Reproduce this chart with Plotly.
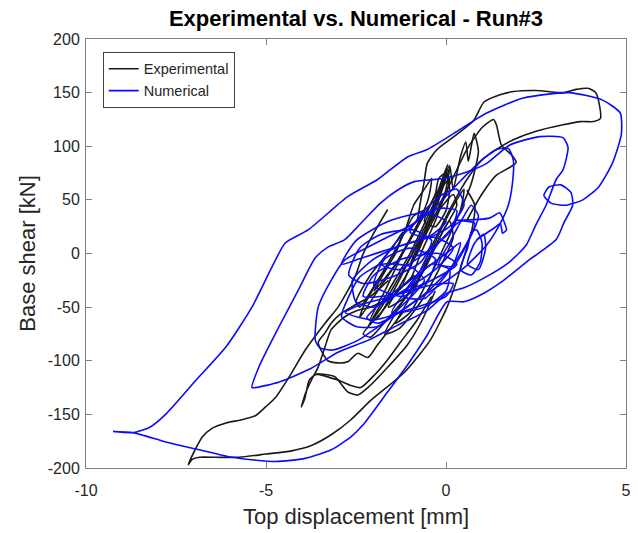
import plotly.graph_objects as go

# ---------------- Experimental response (black) ----------------
# upper envelope loop reaching the positive peak
exp_peak_x = [-0.80, -0.70, -0.61, -0.52, -0.25, 0.22, 0.77, 1.05, 1.50, 1.87, 2.50, 3.25, 3.61,
              3.94, 4.16, 4.27, 4.29, 4.10, 3.74, 3.25, 2.50, 1.87, 1.40, 0.99, 0.58, 0.17, -0.25, -0.70]
exp_peak_y = [30, 50, 66, 84, 97, 109, 124, 141, 148, 151, 152, 150, 153,
              154, 150, 137, 126, 123, 123, 120, 114, 106, 97, 87, 69, 45, 17, -15]

# lower envelope loop reaching the negative peak
exp_neg_x = [-1.62, -2.04, -2.31, -2.53, -3.00, -3.36, -3.91, -4.30, -4.73, -5.01, -5.28, -5.67, -6.11,
             -6.50, -6.77, -6.94, -7.16, -7.05, -6.85, -6.39, -5.75, -5.01, -4.29, -3.74, -3.19,
             -2.64, -2.09, -1.16, -0.44, 0.03, 0.30, 0.52, 0.72, 0.80, 0.58]
exp_neg_y = [41, 17, -1, -22, -50, -65, -90, -112, -134, -143, -151, -155, -158,
             -163, -171, -181, -197, -192, -190, -190, -190, -187, -184, -179, -169,
             -155, -137, -111, -81, -50, -25, -1, 22, 45, 59]

# intermediate negative excursion with the narrow spike
exp_spike_x = [-0.90, -1.50, -2.10, -2.45, -2.81, -3.19, -3.36, -3.55, -3.74, -3.90, -4.02, -3.92, -3.80,
               -3.63, -3.30, -3.08, -2.73, -2.45, -2.17, -1.62, -1.07, -0.66, -0.30]
exp_spike_y = [-20, -40, -50, -53, -59, -71, -87, -106, -118, -130, -143, -135, -118,
               -113, -113, -115, -129, -132, -125, -106, -85, -62, -35]

exp_mid1_x = [-1.20, -1.90, -2.17, -2.45, -2.73, -3.00, -3.28, -3.55, -3.36, -3.19, -2.92, -2.53, -2.10, -1.60]
exp_mid1_y = [-55, -85, -97, -93, -101, -102, -100, -83, -74, -65, -56, -48, -40, -25]

exp_mid2_x = [-3.60, -3.00, -2.64, -2.37, -1.98, -1.62, -1.27, -0.80, -0.40]
exp_mid2_y = [-112, -118, -123, -125, -113, -99, -83, -62, -40]

# secondary positive excursion with the sharp top
exp_top_x = [-0.25, 0.17, 0.58, 0.99, 1.32, 1.40, 1.54, 1.82, 1.95, 1.76, 1.40, 0.99, 0.58]
exp_top_y = [41, 69, 97, 117, 125, 120, 101, 92, 85, 80, 73, 55, 31]

exp_spikes_x = [-0.40, -0.10, 0.10, 0.20, 0.40, 0.55, 0.62, 0.78, 0.90, 0.70, 0.40]
exp_spikes_y = [40, 65, 82, 60, 90, 104, 86, 112, 95, 65, 40]

# small cycles around the origin
exp_cycles = [
    ([-2.2, -1.6, -1.0, -0.5, -0.1, 0.1, 0.0, -0.5, -1.1, -1.7, -2.2],
     [-70, -35, 0, 35, 62, 70, 55, 25, -10, -45, -70]),
    ([-1.9, -1.3, -0.8, -0.3, 0.0, -0.2, -0.7, -1.2, -1.7, -2.1, -1.9],
     [-60, -25, 10, 45, 72, 60, 30, 0, -35, -62, -60]),
    ([-1.6, -1.1, -0.6, -0.2, 0.2, 0.3, -0.1, -0.6, -1.1, -1.6],
     [-50, -20, 15, 40, 55, 45, 20, -15, -40, -50]),
    ([-2.4, -2.0, -1.4, -0.9, -0.6, -0.9, -1.3, -1.8, -2.3, -2.4],
     [-60, -40, -10, 20, 40, 35, 10, -20, -50, -60]),
    ([-1.4, -0.9, -0.5, -0.1, 0.3, 0.5, 0.4, 0.0, -0.5, -1.0, -1.4],
     [-65, -35, -5, 25, 50, 60, 40, 10, -25, -55, -65]),
    ([-2.0, -1.5, -1.1, -0.9, -0.6, -0.4, -0.5, -0.9, -1.4, -2.0],
     [-35, -5, 25, 45, 60, 70, 50, 20, -10, -35]),
    ([-1.2, -0.9, -0.5, -0.2, 0.1, 0.0, -0.3, -0.7, -1.0, -1.2],
     [-30, -5, 25, 50, 80, 60, 30, 0, -25, -30]),
    ([-1.7, -1.3, -0.8, -0.4, 0.1, 0.2, -0.2, -0.7, -1.3, -1.7],
     [-75, -50, -25, 0, 30, 15, -15, -45, -70, -75]),
    ([-0.6, -0.3, -0.2, 0.0, 0.1, 0.0, -0.3, -0.6],
     [30, 55, 70, 75, 60, 40, 25, 30]),
    ([-2.5, -2.1, -1.5, -1.2, -1.4, -1.9, -2.4, -2.5],
     [-45, -20, 5, 20, 0, -25, -50, -45]),
    ([-1.0, -0.6, -0.35, -0.1, 0.05, -0.2, -0.5, -0.8, -1.0],
     [-10, 20, 45, 70, 83, 55, 25, 0, -10]),
    ([-2.3, -1.8, -1.2, -0.8, -1.1, -1.6, -2.1, -2.3],
     [-75, -55, -30, -20, -40, -60, -78, -75]),
]

# ---------------- Numerical response (blue) ----------------
num_outer_x = [-9.25, -8.70, -8.23, -7.76, -6.94, -6.11, -5.39, -4.84, -4.46, -3.83, -2.73, -1.90, -1.07,
               -0.52, 0.22, 1.13, 2.15, 3.41, 4.35, 4.84, 4.87, 4.62, 4.24, 3.80, 3.33, 2.92, 2.72,
               2.86, 3.19, 3.47, 3.52, 3.28, 3.06, 2.31, 1.60, 1.05, 0.50, 0.03, -0.52, -1.07, -1.62,
               -2.31, -2.64, -3.19, -3.91, -4.73, -5.95, -6.85, -7.76, -8.70, -9.25]
num_outer_y = [-166, -167, -162, -149, -118, -87, -50, -13, 10, 22, 53, 69, 90,
               97, 112, 131, 145, 150, 143, 131, 111, 84, 62, 50, 45, 47, 54,
               62, 64, 57, 45, 29, 13, -6, -25, -37, -45, -45, -76, -104, -129,
               -160, -171, -183, -191, -194, -190, -183, -176, -167, -166]

num_second_x = [-5.39, -5.20, -4.65, -4.10, -3.63, -3.28, -2.81, -2.37, -1.82, -1.35, -0.88, -0.06, 0.58,
                1.13, 1.76, 2.59, 3.25, 3.39, 3.25, 3.06, 2.78, 2.50, 2.23, 1.76, 1.05, 0.50, 0.03,
                -0.52, -1.35, -2.17, -3.00, -3.74, -4.65, -5.28, -5.39]
num_second_y = [-125, -106, -69, -34, -4, 6, 13, 28, 47, 59, 67, 70, 76,
                84, 101, 109, 108, 99, 78, 69, 45, 27, 8, -8, -23, -32, -37,
                -53, -67, -81, -92, -107, -120, -125, -125]

num_third_x = [-3.63, -3.55, -3.19, -2.81, -2.45, -1.76, -0.94, -0.25, 0.44, 0.99, 1.40, 1.73, 1.87,
               1.84, 1.73, 1.49, 1.13, 0.58, 0.03, -0.80, -1.62, -2.45, -3.14, -3.50, -3.63]
num_third_y = [-81, -50, -25, -6, 1, 13, 27, 45, 69, 87, 97, 98, 87,
               64, 45, 27, 8, -11, -25, -43, -62, -81, -90, -88, -81]

num_hook_x = [0.30, 1.21, 1.49, 1.62, 1.68, 1.57, 1.51, 1.35, 0.85]
num_hook_y = [31, 33, 38, 29, 22, 19, 28, 24, 13]

num_cycles = [
    ([-2.7, -2.4, -1.8, -0.9, -0.4, -0.7, -1.5, -2.3, -2.7],
     [-20, 5, 18, 22, 12, -8, -22, -28, -20]),
    ([-2.5, -2.6, -2.0, -1.2, -0.3, 0.2, -0.3, -1.2, -2.0, -2.5],
     [-45, -25, -5, 8, 15, 5, -15, -35, -50, -45]),
    ([-2.2, -1.6, -0.8, 0.0, 0.4, 0.2, -0.5, -1.3, -1.9, -2.2],
     [-60, -40, -20, 0, 10, -10, -35, -55, -65, -60]),
    ([-1.8, -1.4, -0.8, -0.2, 0.3, 0.1, -0.6, -1.3, -1.8],
     [-10, 10, 30, 42, 40, 20, 0, -15, -10]),
    ([-1.2, -0.7, -0.2, 0.4, 0.8, 0.5, 0.0, -0.6, -1.2],
     [-40, -15, 10, 30, 28, 5, -20, -42, -40]),
    ([0.4, 0.6, 0.7, 0.85, 1.0, 0.95, 0.7, 0.4],
     [-15, 5, 20, 22, 10, -8, -20, -15]),
    ([0.6, 0.8, 1.05, 1.1, 0.9, 0.6],
     [-10, 10, 18, 5, -15, -10]),
    ([-2.9, -2.5, -1.6, -0.6, 0.0, -0.5, -1.5, -2.4, -2.9],
     [-10, 12, 30, 38, 30, 15, 5, -5, -10]),
    ([-2.0, -1.7, -1.0, -0.3, -0.5, -1.2, -2.0],
     [-30, -5, 5, -5, -25, -40, -30]),
    ([-1.5, -1.0, -0.4, 0.1, 0.0, -0.6, -1.5],
     [-55, -30, -10, -15, -35, -50, -55]),
    ([-2.8, -2.4, -1.5, -0.5, 0.2, 0.0, -1.0, -2.0, -2.8],
     [-55, -48, -40, -30, -28, -40, -52, -62, -55]),
    ([-1.0, -0.6, -0.1, 0.3, 0.5, 0.1, -0.5, -1.0],
     [20, 40, 55, 60, 45, 25, 15, 20]),
    ([-0.2, 0.1, 0.5, 0.7, 0.9, 0.6, 0.2, -0.2],
     [-10, 10, 35, 45, 35, 10, -12, -10]),
    ([-2.3, -2.0, -1.2, -0.2, 0.3, -0.4, -1.4, -2.3],
     [-40, -20, -5, 0, -10, -25, -38, -40]),
    ([-2.9, -2.7, -2.4, -1.8, -1.0, -0.6, -1.2, -1.9, -2.5, -2.9],
     [-59, -40, -22, -10, -12, -25, -48, -68, -68, -59]),
]

# axis ticks
x_ticks = [-10, -5, 0, 5]
y_ticks = [-200, -150, -100, -50, 0, 50, 100, 150, 200]


def chain(segments):
    """Concatenate polyline segments, separated by gaps."""
    xs, ys = [], []
    for sx, sy in segments:
        xs += list(sx) + [None]
        ys += list(sy) + [None]
    return xs, ys


exp_x, exp_y = chain([(exp_peak_x, exp_peak_y), (exp_neg_x, exp_neg_y), (exp_spike_x, exp_spike_y),
                      (exp_mid1_x, exp_mid1_y), (exp_mid2_x, exp_mid2_y), (exp_top_x, exp_top_y),
                      (exp_spikes_x, exp_spikes_y)] + exp_cycles)
num_x, num_y = chain([(num_outer_x, num_outer_y), (num_second_x, num_second_y),
                      (num_third_x, num_third_y), (num_hook_x, num_hook_y)] + num_cycles)

fig = go.Figure()
fig.add_trace(go.Scatter(x=exp_x, y=exp_y, mode="lines", name="Experimental",
                         line=dict(color="#1a1a1a", width=1.6, shape="spline", smoothing=0.6),
                         connectgaps=False))
fig.add_trace(go.Scatter(x=num_x, y=num_y, mode="lines", name="Numerical",
                         line=dict(color="#0a0aff", width=1.6, shape="spline", smoothing=0.6),
                         connectgaps=False))

axis_common = dict(showline=True, linecolor="#808080", linewidth=1, mirror="ticks",
                   ticks="inside", ticklen=6, tickcolor="#808080", showgrid=False,
                   zeroline=False, tickfont=dict(size=16, color="#262626"))

fig.update_layout(
    width=638, height=533,
    margin=dict(l=86, r=7, t=39, b=65),
    paper_bgcolor="white", plot_bgcolor="white",
    font=dict(family="Liberation Sans, Arial, sans-serif", color="#262626"),
    title=dict(text="<b>Experimental vs. Numerical - Run#3</b>", x=0.5, xref="paper",
               y=1 - 18 / 533, yref="container", yanchor="middle",
               font=dict(size=22, color="#000000")),
    xaxis=dict(range=[-10, 5], tickvals=x_ticks, ticktext=[str(v) for v in x_ticks],
               ticklabelstandoff=8,
               title=dict(text="Top displacement [mm]", font=dict(size=22, color="#262626"), standoff=10),
               **axis_common),
    yaxis=dict(range=[-200, 200], tickvals=y_ticks, ticktext=[str(v) for v in y_ticks],
               ticklabelstandoff=2,
               title=dict(text="Base shear [kN]", font=dict(size=22, color="#262626"), standoff=6),
               **axis_common),
    legend=dict(x=0.031, y=0.97, xanchor="left", yanchor="top",
                bgcolor="white", bordercolor="#404040", borderwidth=1,
                font=dict(size=14.5, color="#262626"), tracegroupgap=0),
    showlegend=True,
)

fig.write_html("out.html")
